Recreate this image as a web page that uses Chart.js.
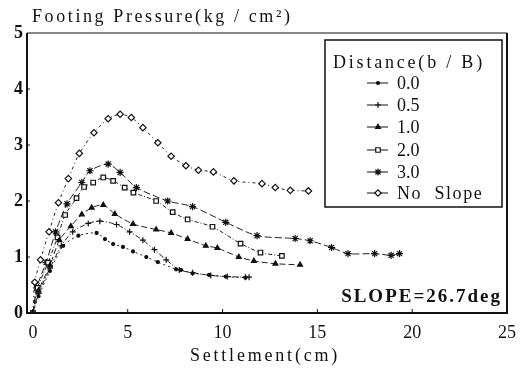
<!DOCTYPE html>
<html>
<head>
<meta charset="utf-8">
<script src="https://cdn.jsdelivr.net/npm/chart.js@4.4.0/dist/chart.umd.min.js"></script>
<style>
  body { margin: 0; background: #fff; }
  #wrap { width: 525px; height: 370px; }
</style>
</head>
<body>
<div id="wrap"><canvas id="chart" width="525" height="370"></canvas></div>
<script>
// Values (settlement in cm, pressure in kg/cm2)
const seriesNames = ["0.0", "0.5", "1.0", "2.0", "3.0", "No Slope"];
const xTicks = [0, 5, 10, 15, 20, 25];
const yTicks = [0, 1, 2, 3, 4, 5];

const settle00 = [0, 0.3, 0.9, 1.6, 2.4, 3.36, 3.8, 4.23, 4.75, 5.28, 5.98, 6.59, 7.55, 7.81, 8.42, 9.29, 10.17, 11.21];
const press00  = [0, 0.3, 0.75, 1.2, 1.38, 1.43, 1.32, 1.23, 1.18, 1.1, 1.0, 0.91, 0.78, 0.77, 0.71, 0.68, 0.65, 0.63];

const settle05 = [0, 0.3, 0.9, 1.5, 2.1, 2.92, 3.53, 4.41, 5.1, 5.8, 6.41, 7.03, 7.72, 8.42, 9.38, 10.25, 11.21, 11.4];
const press05  = [0, 0.35, 0.8, 1.2, 1.45, 1.6, 1.64, 1.58, 1.45, 1.3, 1.13, 0.95, 0.77, 0.72, 0.67, 0.65, 0.64, 0.64];

const settle10 = [0, 0.3, 0.9, 1.4, 2.0, 2.58, 3.1, 3.71, 4.32, 5.28, 6.5, 7.29, 8.16, 9.12, 9.73, 10.86, 11.65, 12.79, 14.09];
const press10  = [0, 0.4, 0.85, 1.3, 1.55, 1.76, 1.88, 1.93, 1.77, 1.59, 1.49, 1.43, 1.32, 1.2, 1.16, 1.0, 0.93, 0.88, 0.86];

const settle20 = [0, 0.25, 0.8, 1.3, 1.7, 2.3, 2.7, 3.18, 3.71, 4.23, 4.84, 5.3, 6.5, 7.37, 8.16, 9.47, 10.95, 12.0, 13.13];
const press20  = [0, 0.45, 0.9, 1.35, 1.75, 2.05, 2.25, 2.33, 2.42, 2.36, 2.24, 2.15, 2.0, 1.8, 1.67, 1.54, 1.24, 1.08, 1.02];

const settle30 = [0, 0.2, 0.7, 1.2, 1.8, 2.58, 3.01, 3.97, 4.6, 5.46, 7.11, 8.42, 10.17, 11.82, 13.83, 14.62, 15.75, 16.62, 18.02, 18.89, 19.33];
const press30  = [0, 0.45, 0.9, 1.45, 1.95, 2.33, 2.54, 2.66, 2.51, 2.24, 2.0, 1.9, 1.62, 1.38, 1.33, 1.29, 1.17, 1.06, 1.06, 1.03, 1.06];

const settleNS = [0, 0.1, 0.4, 0.85, 1.35, 1.87, 2.45, 3.22, 3.97, 4.6, 5.19, 5.8, 6.59, 7.29, 8.07, 8.73, 9.52, 10.6, 12.08, 12.78, 13.57, 14.53];
const pressNS  = [0, 0.55, 0.95, 1.45, 1.97, 2.4, 2.85, 3.22, 3.47, 3.55, 3.49, 3.31, 3.04, 2.8, 2.63, 2.55, 2.52, 2.36, 2.31, 2.24, 2.19, 2.18];

const settlements = [settle00, settle05, settle10, settle20, settle30, settleNS];
const pressures = [press00, press05, press10, press20, press30, pressNS];

// Marker and line look for each series
const pointStyles = ["circle", "cross", "triangle", "rect", "star", "rectRot"];
const pointSizes = [1.5, 3, 2.8, 3.2, 3.6, 3.2];
const pointFills = ["#111", "#111", "#111", "#fff", "#111", "#fff"];
const dashes = [[2, 3], [5, 2, 1, 2], [6, 3], [4, 2, 1, 2], [7, 3], [3, 3, 1, 3]];

const serif = "'Liberation Serif', 'DejaVu Serif', serif";

const datasets = seriesNames.map((name, i) => ({
  label: name,
  data: settlements[i].map((s, j) => ({ x: s, y: pressures[i][j] })),
  borderColor: "#222",
  borderWidth: 1,
  borderDash: dashes[i],
  pointStyle: pointStyles[i],
  pointRadius: pointSizes[i],
  pointBackgroundColor: pointFills[i],
  pointBorderColor: "#111",
  pointBorderWidth: 1.2,
  tension: 0.25
}));

function marker(ctx, style, r, fill, x, y) {
  ctx.save();
  ctx.fillStyle = fill;
  ctx.strokeStyle = "#111";
  ctx.lineWidth = 1.2;
  if (Chart.helpers && Chart.helpers.drawPoint) {
    Chart.helpers.drawPoint(ctx, { pointStyle: style, radius: r, borderWidth: 1.2 }, x, y);
  } else {
    ctx.beginPath();
    ctx.arc(x, y, r, 0, Math.PI * 2);
    ctx.fill();
    ctx.stroke();
  }
  ctx.restore();
}

// Frame, inward ticks, titles, legend box and slope note
const decorations = {
  id: "decorations",
  afterDraw(chart) {
    const { ctx, chartArea: a, scales } = chart;
    ctx.save();
    ctx.strokeStyle = "#111";

    // frame
    ctx.lineWidth = 2;
    ctx.beginPath();
    ctx.moveTo(a.left, a.top);
    ctx.lineTo(a.left, a.bottom);
    ctx.lineTo(a.right, a.bottom);
    ctx.lineTo(a.right, a.top);
    ctx.stroke();
    ctx.lineWidth = 1;
    ctx.beginPath();
    ctx.moveTo(a.left, a.top);
    ctx.lineTo(a.right, a.top);
    ctx.stroke();

    // small inward ticks
    ctx.lineWidth = 1;
    xTicks.slice(1, -1).forEach(v => {
      const px = scales.x.getPixelForValue(v);
      ctx.beginPath();
      ctx.moveTo(px, a.bottom);
      ctx.lineTo(px, a.bottom - 4);
      ctx.stroke();
    });
    yTicks.slice(1, -1).forEach(v => {
      const py = scales.y.getPixelForValue(v);
      ctx.beginPath();
      ctx.moveTo(a.left, py);
      ctx.lineTo(a.left + 3, py);
      ctx.stroke();
    });

    // texts
    ctx.fillStyle = "#111";
    ctx.textBaseline = "alphabetic";
    ctx.textAlign = "left";
    ctx.font = "18px " + serif;
    ctx.letterSpacing = "2.6px";
    ctx.fillText("Footing Pressure(kg / cm²)", 32, 22);

    ctx.textAlign = "center";
    ctx.letterSpacing = "2.8px";
    ctx.fillText("Settlement(cm)", 265, 361);

    ctx.textAlign = "right";
    ctx.font = "bold 19px " + serif;
    ctx.letterSpacing = "2px";
    ctx.fillText("SLOPE=26.7deg", 502, 302);

    // legend
    const box = { l: 325, t: 40, r: 502, b: 207 };
    ctx.lineWidth = 1.5;
    ctx.fillStyle = "#fff";
    ctx.fillRect(box.l, box.t, box.r - box.l, box.b - box.t);
    ctx.strokeRect(box.l, box.t, box.r - box.l, box.b - box.t);
    ctx.fillStyle = "#111";
    ctx.textAlign = "left";
    ctx.font = "18px " + serif;
    ctx.letterSpacing = "2.8px";
    ctx.fillText("Distance(b / B)", 333, 68);

    const rowY = [83, 105, 127, 150, 172, 193];
    seriesNames.forEach((name, i) => {
      const yy = rowY[i];
      ctx.lineWidth = 1;
      ctx.beginPath();
      ctx.moveTo(367, yy);
      ctx.lineTo(388, yy);
      ctx.stroke();
      marker(ctx, pointStyles[i], pointSizes[i], pointFills[i], 378, yy);
      ctx.fillStyle = "#111";
      ctx.font = "18px " + serif;
      ctx.letterSpacing = i === 5 ? "1.6px" : "0px";
      ctx.fillText(i === 5 ? "No  Slope" : name, 397, yy + 6);
    });
    ctx.restore();
  }
};

new Chart(document.getElementById("chart"), {
  type: "line",
  data: { datasets: datasets },
  options: {
    responsive: false,
    animation: false,
    devicePixelRatio: 1,
    layout: { padding: { left: 0, top: 33, right: 15, bottom: 0 } },
    plugins: {
      legend: { display: false },
      title: { display: false },
      tooltip: { enabled: false }
    },
    scales: {
      x: {
        type: "linear",
        min: -0.31,
        max: 25,
        afterBuildTicks: scale => { scale.ticks = xTicks.map(v => ({ value: v })); },
        afterFit: scale => { scale.height = 57; },
        grid: { display: false, drawTicks: false },
        border: { display: false },
        ticks: {
          color: "#111",
          padding: 9,
          maxRotation: 0,
          font: { family: serif, size: 18 }
        }
      },
      y: {
        min: 0,
        max: 5,
        afterBuildTicks: scale => { scale.ticks = yTicks.map(v => ({ value: v })); },
        afterFit: scale => { scale.width = 27; },
        grid: { display: false, drawTicks: false },
        border: { display: false },
        ticks: {
          color: "#111",
          padding: 4,
          font: { family: serif, size: 18, weight: "bold" }
        }
      }
    }
  },
  plugins: [decorations]
});
</script>
</body>
</html>
